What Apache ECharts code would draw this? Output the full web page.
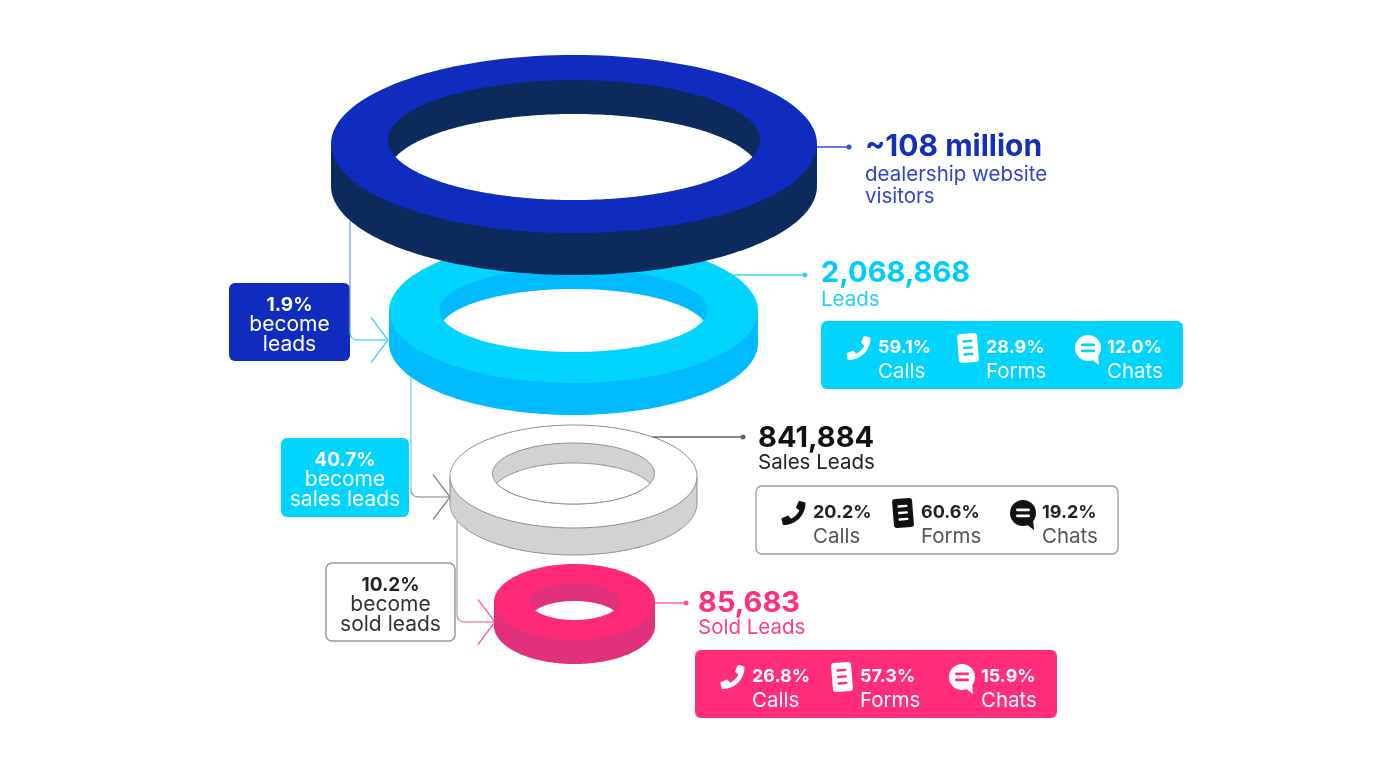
<!DOCTYPE html>
<html><head><meta charset="utf-8">
<script src="https://cdn.jsdelivr.net/npm/echarts@6/dist/echarts.min.js"></script>
<style>html,body{margin:0;padding:0;background:#fff}#c{width:1400px;height:763px}</style>
</head><body><div id="c"></div>
<script>
// ---------- DATA ----------
const stageValues = ['~108 million', '2,068,868', '841,884', '85,683'];
const stageNames = [['dealership website', 'visitors'], ['Leads'], ['Sales Leads'], ['Sold Leads']];
const conversionRates = ['1.9%', '40.7%', '10.2%'];
const conversionLabels = [['become', 'leads'], ['become', 'sales leads'], ['become', 'sold leads']];
const channelNames = ['Calls', 'Forms', 'Chats'];
const leadsShares = [59.1, 28.9, 12.0];
const salesLeadsShares = [20.2, 60.6, 19.2];
const soldLeadsShares = [26.8, 57.3, 15.9];
const channelShares = [null, leadsShares, salesLeadsShares, soldLeadsShares];

// ---------- LAYOUT (geometry in a 1400x763 value space) ----------
const ringGeom = [
  {cx: 574, cy: 144, rx: 243, ry: 89, d: 42, icy: 140, irx: 186, iry: 60, di: 34},
  {cx: 573.5, cy: 311, rx: 184.5, ry: 72, d: 32, icy: 310, irx: 134, iry: 42, di: 21},
  {cx: 573.5, cy: 476.5, rx: 123.5, ry: 51.5, d: 27, icy: 473.5, irx: 81, iry: 30.5, di: 20},
  {cx: 574.5, cy: 602, rx: 80.5, ry: 38, d: 24, icy: 601.5, irx: 45, iry: 18.5, di: 18}
];
const labelGeom = [
  {ly: 147, dotX: 849, tx: 865, ty: 147, nameY: [175, 197], box: null, size: 30},
  {ly: 275, dotX: 805, tx: 821, ty: 273, nameY: [300], box: {x: 821, y: 321}, size: 29},
  {ly: 437, dotX: 743, tx: 758, ty: 438, nameY: [463], box: {x: 756, y: 486}, size: 29},
  {ly: 603, dotX: 686, tx: 698, ty: 603, nameY: [628], box: {x: 695, y: 650}, size: 29}
];
const connGeom = [
  {x: 350, tip: [388, 340], box: {x: 229, y: 283, w: 121, h: 78}},
  {x: 411, tip: [450, 497], box: {x: 281, y: 438, w: 128, h: 79}},
  {x: 457, tip: [495, 622], box: {x: 326, y: 563, w: 129, h: 78}}
];
const BOX_W = 362, BOX_H = 68;
const iconOffsets = [37, 147, 267];
const textOffsets = [57, 165, 286];

// ---------- STYLES ----------
const FONT = 'Inter, "Open Sans", "Noto Sans", sans-serif';
const ringStyle = [
  {top: '#0f2cbf', side: '#0d2a5c', stroke: null},
  {top: '#00d4ff', side: '#00bbff', stroke: null},
  {top: '#ffffff', side: '#d2d2d2', stroke: '#8c8c8c'},
  {top: '#fe2a77', side: '#e1307c', stroke: null}
];
const labelStyle = [
  {line: '#2f4fd6', title: '#1530b8', name: '#2e44cc'},
  {line: '#33cfff', title: '#00cbff', name: '#1fcfff'},
  {line: '#666666', title: '#111111', name: '#222222'},
  {line: '#ff4f8e', title: '#ff2d7a', name: '#ff3d85'}
];
const connStyle = [
  {v: '#7d9ff2', h: '#3fd3ff', arrow: '#3fd3ff', fill: '#0f2cbf', stroke: null, pct: '#ffffff', txt: '#ffffff'},
  {v: '#7fcbe6', h: '#9a9a9a', arrow: '#8a8a8a', fill: '#00d4ff', stroke: null, pct: '#ffffff', txt: '#ffffff'},
  {v: '#a9a9a9', h: '#f27aa8', arrow: '#ff5d9b', fill: '#ffffff', stroke: '#9a9a9a', pct: '#222222', txt: '#333333'}
];
const boxStyle = [null,
  {fill: '#00d4ff', stroke: null, icon: '#ffffff', inner: '#00d4ff', pct: '#ffffff', name: '#ffffff'},
  {fill: '#ffffff', stroke: '#9a9a9a', icon: '#111111', inner: '#ffffff', pct: '#222222', name: '#555555'},
  {fill: '#ff2d7a', stroke: null, icon: '#ffffff', inner: '#ff2d7a', pct: '#ffffff', name: '#ffffff'}
];
const PHONE = 'M493.4 24.6l-104-24c-11.3-2.6-22.9 3.3-27.5 13.9l-48 112c-4.2 9.8-1.4 21.3 6.9 28l60.6 49.6c-36 76.7-98.9 140.5-177.2 177.2l-49.6-60.6c-6.8-8.3-18.2-11.1-28-6.9l-112 48C3.9 366.5-2 378.1.6 389.4l24 104C27.1 504.2 36.7 512 48 512c256.1 0 464-207.5 464-464 0-11.2-7.7-20.9-18.6-23.4z';

function ellipsePts(cx, cy, rx, ry, t0, t1, n) {
  const pts = [];
  for (let k = 0; k <= n; k++) {
    const t = t0 + (t1 - t0) * k / n;
    pts.push([cx + rx * Math.cos(t), cy + ry * Math.sin(t)]);
  }
  return pts;
}
function txt(p, text, font, fill, align) {
  return {type: 'text', x: p[0], y: p[1], style: {text: text, font: font, fill: fill,
    textAlign: align || 'left', textVerticalAlign: 'middle', textBaseline: 'middle'}};
}

function renderItem(params, api) {
  const i = api.value(0);
  const C = p => api.coord(p);
  const kids = [];
  const g = ringGeom[i], st = ringStyle[i];

  // connector + conversion box into stage i
  if (i > 0) {
    const cg = connGeom[i - 1], cs = connStyle[i - 1], up = ringGeom[i - 1];
    const b = cg.box;
    const bp = C([b.x, b.y]), bs = api.size([b.w, b.h]);
    kids.push({type: 'rect', shape: {x: bp[0], y: bp[1], width: bs[0], height: bs[1], r: 6},
      style: {fill: cs.fill, stroke: cs.stroke, lineWidth: 1.5}});
    const mx = b.x + b.w / 2;
    kids.push(txt(C([mx, b.y + 22]), conversionRates[i - 1], 'bold 19px ' + FONT, cs.pct, 'center'));
    conversionLabels[i - 1].forEach((s, k) => {
      kids.push(txt(C([mx, b.y + 42 + k * 20]), s, '21px ' + FONT, cs.txt, 'center'));
    });
    const y0 = up.cy + up.ry * Math.sqrt(1 - Math.pow((cg.x - up.cx) / up.rx, 2)) + up.d;
    const tx = cg.tip[0], ty = cg.tip[1], r = 8;
    const a = C([cg.x, y0]), bC = C([cg.x, ty - r]), c1 = C([cg.x, ty]), c2 = C([cg.x + r, ty]), tp = C([tx, ty]);
    kids.push({type: 'line', shape: {x1: a[0], y1: a[1], x2: bC[0], y2: bC[1]}, style: {stroke: cs.v, lineWidth: 1.3}});
    kids.push({type: 'bezierCurve', shape: {x1: bC[0], y1: bC[1], cpx1: c1[0], cpy1: c1[1], x2: c2[0], y2: c2[1]},
      style: {stroke: cs.h, fill: null, lineWidth: 1.3}});
    kids.push({type: 'line', shape: {x1: c2[0], y1: c2[1], x2: tp[0], y2: tp[1]}, style: {stroke: cs.h, lineWidth: 1.3}});
    kids.push({type: 'polyline', shape: {points: [C([tx - 17, ty - 22.5]), tp, C([tx - 17, ty + 22.5])]},
      style: {stroke: cs.arrow, fill: null, lineWidth: 1.3}});
  }

  // ring
  const N = 160;
  const lw = st.stroke ? 1 : 0;
  const side = [[g.cx - g.rx, g.cy]].concat(ellipsePts(g.cx, g.cy + g.d, g.rx, g.ry, Math.PI, 0, N)).concat([[g.cx + g.rx, g.cy]]).map(C);
  kids.push({type: 'polygon', shape: {points: side}, style: {fill: st.side, stroke: st.stroke, lineWidth: lw}});
  kids.push({type: 'polygon', shape: {points: ellipsePts(g.cx, g.cy, g.rx, g.ry, 0, 2 * Math.PI, N).map(C)},
    style: {fill: st.top, stroke: st.stroke, lineWidth: lw}});
  kids.push({type: 'polygon', shape: {points: ellipsePts(g.cx, g.icy, g.irx, g.iry, 0, 2 * Math.PI, N).map(C)},
    style: {fill: st.side, stroke: st.stroke, lineWidth: lw}});
  const al = Math.asin(Math.min(1, g.di / (2 * g.iry)));
  const lens = ellipsePts(g.cx, g.icy + g.di, g.irx, g.iry, Math.PI + al, 2 * Math.PI - al, N)
    .concat(ellipsePts(g.cx, g.icy, g.irx, g.iry, al, Math.PI - al, N)).map(C);
  kids.push({type: 'polygon', shape: {points: lens}, style: {fill: '#ffffff', stroke: st.stroke, lineWidth: lw}});

  // right label
  const lg = labelGeom[i], ls = labelStyle[i];
  const ex = g.cx + g.rx * Math.sqrt(Math.max(0, 1 - Math.pow((lg.ly - g.cy) / g.ry, 2)));
  const p1 = C([ex, lg.ly]), p2 = C([lg.dotX, lg.ly]);
  kids.push({type: 'line', shape: {x1: p1[0], y1: p1[1], x2: p2[0], y2: p2[1]}, style: {stroke: ls.line, lineWidth: 1.3}});
  kids.push({type: 'circle', shape: {cx: p2[0], cy: p2[1], r: 2.5}, style: {fill: ls.line}});
  kids.push(txt(C([lg.tx, lg.ty]), stageValues[i], 'bold ' + lg.size + 'px ' + FONT, ls.title));
  stageNames[i].forEach((s, k) => kids.push(txt(C([lg.tx, lg.nameY[k]]), s, '20.5px ' + FONT, ls.name)));

  // channel box
  if (lg.box) {
    const bs = boxStyle[i], bx = lg.box;
    const bp = C([bx.x, bx.y]), sz = api.size([BOX_W, BOX_H]);
    kids.push({type: 'rect', shape: {x: bp[0], y: bp[1], width: sz[0], height: sz[1], r: 6},
      style: {fill: bs.fill, stroke: bs.stroke, lineWidth: 1.3}});
    channelShares[i].forEach((v, k) => {
      const ip = C([bx.x + iconOffsets[k], bx.y + 27]);
      const tp = bx.x + textOffsets[k];
      kids.push(txt(C([tp, bx.y + 27]), v.toFixed(1) + '%', 'bold 18px ' + FONT, bs.pct));
      kids.push(txt(C([tp, bx.y + 51]), channelNames[k], '20.5px ' + FONT, bs.name));
      if (k === 0) {
        kids.push({type: 'path', shape: {pathData: PHONE, x: ip[0] - 13, y: ip[1] - 12, width: 27, height: 24},
          style: {fill: bs.icon}});
      } else if (k === 1) {
        kids.push({type: 'group', x: ip[0], y: ip[1], rotation: 0.08, children: [
          {type: 'rect', shape: {x: -10, y: -14.5, width: 20, height: 29, r: 3}, style: {fill: bs.icon}},
          {type: 'rect', shape: {x: -5, y: -8, width: 10, height: 2.4, r: 1}, style: {fill: bs.inner}},
          {type: 'rect', shape: {x: -5, y: -1.5, width: 10, height: 2.4, r: 1}, style: {fill: bs.inner}},
          {type: 'rect', shape: {x: -5, y: 5, width: 10, height: 2.4, r: 1}, style: {fill: bs.inner}}
        ]});
      } else {
        kids.push({type: 'group', x: ip[0], y: ip[1], children: [
          {type: 'circle', shape: {cx: 0, cy: 0, r: 13}, style: {fill: bs.icon}},
          {type: 'polygon', shape: {points: [[3, 11], [11, 17], [10, 6]]}, style: {fill: bs.icon}},
          {type: 'rect', shape: {x: -7, y: -4.5, width: 14, height: 2.8, r: 1.4}, style: {fill: bs.inner}},
          {type: 'rect', shape: {x: -7, y: 1.5, width: 14, height: 2.8, r: 1.4}, style: {fill: bs.inner}}
        ]});
      }
    });
  }
  return {type: 'group', children: kids};
}

const chart = echarts.init(document.getElementById('c'));
chart.setOption({
  animation: false,
  backgroundColor: '#ffffff',
  grid: {left: 0, right: 0, top: 0, bottom: 0},
  xAxis: {type: 'value', min: 0, max: 1400, show: false},
  yAxis: {type: 'value', min: 0, max: 763, inverse: true, show: false},
  series: [{
    type: 'custom', coordinateSystem: 'cartesian2d', renderItem: renderItem, clip: false, silent: true,
    encode: {x: 0, y: 1},
    data: [[3, 0], [2, 0], [1, 0], [0, 0]]
  }]
});
</script>
</body></html>
